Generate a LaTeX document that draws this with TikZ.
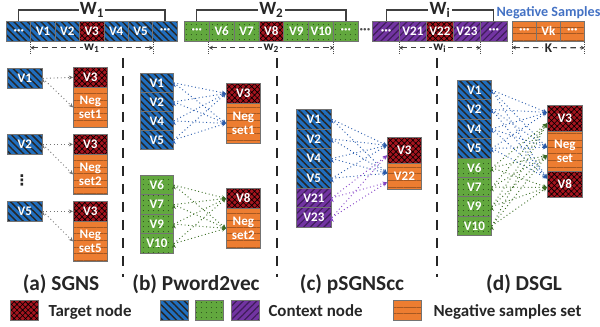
\documentclass[tikz,border=0pt]{standalone}
\usepackage{fontspec}
\setmainfont{Carlito}
\newfontfamily\symfont{DejaVu Sans}
\usetikzlibrary{arrows.meta,patterns.meta,calc}

\definecolor{tgtRed}{RGB}{165,20,30}
\definecolor{ctxBlue}{RGB}{32,110,190}
\definecolor{ctxGreen}{RGB}{98,168,62}
\definecolor{ctxPurple}{RGB}{114,52,162}
\definecolor{negOrange}{RGB}{237,125,49}
\definecolor{cellLine}{RGB}{115,115,115}
\definecolor{lnkBlue}{RGB}{45,95,175}
\definecolor{lnkGreen}{RGB}{62,112,40}
\definecolor{lnkPurple}{RGB}{135,70,200}
\definecolor{capGray}{RGB}{38,38,38}
\definecolor{titleBlue}{RGB}{68,114,196}

\tikzset{every picture/.style={line width=0.75pt}}
\tikzset{
  cell/.style={draw=cellLine, line width=0.6pt, inner sep=0pt, anchor=north west,
    text=white, align=center, font=\bfseries\fontsize{9.8}{10.5}\selectfont},
  tgt/.style={cell, preaction={fill=tgtRed},
    pattern={Hatch[angle=45,distance=3pt,line width=0.45pt]}, pattern color=black},
  ctxb/.style={cell, preaction={fill=ctxBlue},
    pattern={Lines[angle=-45,distance=3.6pt,line width=1.1pt]}, pattern color=black!85},
  ctxg/.style={cell, preaction={fill=ctxGreen},
    pattern={Dots[distance=4pt,radius=0.45pt]}, pattern color=ctxGreen!45!black},
  ctxp/.style={cell, preaction={fill=ctxPurple},
    pattern={Lines[angle=45,distance=3.6pt,line width=0.9pt]}, pattern color=ctxPurple!55!black},
  negs/.style={cell, preaction={fill=negOrange},
    pattern={Lines[angle=0,distance=5pt,line width=0.45pt]}, pattern color=negOrange!70!black},
  topA/.style={minimum width=18.3pt,minimum height=15pt},
  topB/.style={minimum width=18.65pt,minimum height=15pt},
  topC/.style={minimum width=20.25pt,minimum height=15pt},
  topK/.style={minimum width=18pt,minimum height=15pt},
  brk/.style={draw=black!75, line width=0.8pt},
  wlab/.style={fill=white, inner sep=1pt, text=black!85, font=\bfseries\fontsize{14}{14}\selectfont},
  wsub/.style={fill=white, inner sep=1pt, text=black!85, font=\bfseries\fontsize{10}{10}\selectfont},
  wtick/.style={densely dotted, draw=black!70, line width=0.7pt},
  warr/.style={draw=black!75, line width=0.8pt, dash pattern=on 4pt off 3pt,
    {Stealth[length=3pt,width=3pt]}-{Stealth[length=3pt,width=3pt]}},
  lnk/.style={dotted, line width=0.7pt, -{Stealth[length=3.2pt,width=3pt]}},
  lnkg/.style={lnk, draw=black!55},
  lnkb/.style={lnk, draw=lnkBlue},
  lnkn/.style={lnk, draw=lnkGreen},
  lnkp/.style={lnk, draw=lnkPurple},
  sepline/.style={draw=black!85, line width=1.8pt, dash pattern=on 7.5pt off 6pt},
  captxt/.style={anchor=base, text=capGray, font=\bfseries\fontsize{16}{16}\selectfont},
  legtxt/.style={anchor=base west, inner sep=0pt, text=capGray, font=\bfseries\fontsize{12.7}{13}\selectfont}
}

\begin{document}
\begin{tikzpicture}[x=0.75pt,y=-0.75pt]
\useasboundingbox (0,0) rectangle (600,327);

% top row, window 1
\node[ctxb,topA] (r1a) at (6,21) {···};
\node[ctxb,topA] (r1v1) at (30.4,21) {V1};
\node[ctxb,topA] (r1v2) at (54.8,21) {V2};
\node[tgt,topA] (r1v3) at (79.2,21) {V3};
\node[ctxb,topA] (r1v4) at (103.6,21) {V4};
\node[ctxb,topA] (r1v5) at (128,21) {V5};
\node[ctxb,topA] (r1b) at (152.4,21) {···};
% top row, window 2
\node[ctxg,topB] (r2a) at (184,21) {···};
\node[ctxg,topB] (r2v6) at (208.86,21) {V6};
\node[ctxg,topB] (r2v7) at (233.71,21) {V7};
\node[tgt,topB] (r2v8) at (258.57,21) {V8};
\node[ctxg,topB] (r2v9) at (283.43,21) {V9};
\node[ctxg,topB] (r2v10) at (308.29,21) {V10};
\node[ctxg,topB] (r2b) at (333.14,21) {···};
% gap
\node[text=black!70, font=\bfseries] (gapDots) at (365,31) {···};
% top row, window i
\node[ctxp,topC] (r3a) at (372,21) {···};
\node[ctxp,topC] (r3v21) at (399,21) {V21};
\node[tgt,topC] (r3v22) at (426,21) {V22};
\node[ctxp,topC] (r3v23) at (453,21) {V23};
\node[ctxp,topC] (r3b) at (480,21) {···};
% negative samples
\node[negs,topK] (rn1) at (512,21) {···};
\node[negs,topK] (rnk) at (536,21) {Vk};
\node[negs,topK] (rn2) at (560,21) {···};
\node[text=titleBlue, inner sep=0pt, font=\bfseries\fontsize{10.6}{11}\selectfont] (negTitle) at (548.5,13) {Negative Samples};

% window brackets
\draw[brk] (r1a.north) -- ++(0,-11) -| (r1b.north) node[pos=0.25,wlab] {W\textsubscript{1}};
\draw[brk] (r2a.north) -- ++(0,-11) -| (r2b.north) node[pos=0.25,wlab] {W\textsubscript{2}};
\draw[brk] (r3a.north) -- ++(0,-11) -| (r3b.north) node[pos=0.25,wlab] {W\textsubscript{i}};

% window widths
\draw[wtick] (r1v1.south west) -- ++(0,12);
\draw[wtick] (r1v5.south east) -- ++(0,12);
\coordinate (w1l) at ($(r1v1.south west)+(0,6)$);
\coordinate (w1r) at ($(r1v5.south east)+(0,6)$);
\draw[warr] (w1l) -- (w1r) node[midway,wsub] {w\textsubscript{1}};
\draw[wtick] (r2v6.south west) -- ++(0,12);
\draw[wtick] (r2v10.south east) -- ++(0,12);
\coordinate (w2l) at ($(r2v6.south west)+(0,6)$);
\coordinate (w2r) at ($(r2v10.south east)+(0,6)$);
\draw[warr] (w2l) -- (w2r) node[midway,wsub] {w\textsubscript{2}};
\draw[wtick] (r3v21.south west) -- ++(0,12);
\draw[wtick] (r3v23.south east) -- ++(0,12);
\coordinate (wil) at ($(r3v21.south west)+(0,6)$);
\coordinate (wir) at ($(r3v23.south east)+(0,6)$);
\draw[warr] (wil) -- (wir) node[midway,wsub] {w\textsubscript{i}};
\draw[wtick] (rn1.south west) -- ++(0,12);
\draw[wtick] (rn2.south east) -- ++(0,12);
\coordinate (kl) at ($(rn1.south west)+(0,6)$);
\coordinate (kr) at ($(rn2.south east)+(0,6)$);
\draw[warr] (kl) -- (kr) node[midway,wsub] {K};

% separators
\draw[sepline] (123,58) -- (123,277);
\draw[sepline] (277,58) -- (277,277);
\draw[sepline] (437,58) -- (437,277);

% (a) SGNS
\node[ctxb,minimum width=26.25pt,minimum height=15pt] (sgV1) at (7,68) {V1};
\node[tgt,minimum width=25.5pt,minimum height=15pt] (sgT1) at (73,67) {V3};
\node[negs,minimum width=25.5pt,minimum height=30pt] (sgN1) at (73,87) {Neg\\set1};
\node[ctxb,minimum width=26.25pt,minimum height=15pt] (sgV2) at (7,134) {V2};
\node[tgt,minimum width=25.5pt,minimum height=15pt] (sgT2) at (73,134) {V3};
\node[negs,minimum width=25.5pt,minimum height=30pt] (sgN2) at (73,154) {Neg\\set2};
\node[ctxb,minimum width=26.25pt,minimum height=15pt] (sgV5) at (7,201) {V5};
\node[tgt,minimum width=25.5pt,minimum height=15pt] (sgT5) at (73,201) {V3};
\node[negs,minimum width=25.5pt,minimum height=30pt] (sgN5) at (73,221) {Neg\\set5};
\node[text=capGray, font=\symfont\bfseries\fontsize{11}{11}\selectfont] (sgDots) at (22,180) {⋮};
\draw[lnkg] (sgV1.east) edge (sgT1.west) edge (sgN1.west);
\draw[lnkg] (sgV2.east) edge (sgT2.west) edge (sgN2.west);
\draw[lnkg] (sgV5.east) edge (sgT5.west) edge (sgN5.west);

% (b) Pword2vec
\node[ctxb,minimum width=24.75pt,minimum height=14.25pt] (pwV1) at (140,73) {V1};
\node[ctxb,minimum width=24.75pt,minimum height=14.25pt] (pwV2) at (140,92) {V2};
\node[ctxb,minimum width=24.75pt,minimum height=14.25pt] (pwV4) at (140,111) {V4};
\node[ctxb,minimum width=24.75pt,minimum height=14.25pt] (pwV5) at (140,130) {V5};
\node[tgt,minimum width=25.5pt,minimum height=15pt] (pwT1) at (226,83) {V3};
\node[negs,minimum width=25.5pt,minimum height=30pt] (pwN1) at (226,103) {Neg\\set1};
\node[ctxg,minimum width=24.75pt,minimum height=14.6pt] (pwV6) at (140,175) {V6};
\node[ctxg,minimum width=24.75pt,minimum height=14.6pt] (pwV7) at (140,194.5) {V7};
\node[ctxg,minimum width=24.75pt,minimum height=14.6pt] (pwV9) at (140,214) {V9};
\node[ctxg,minimum width=24.75pt,minimum height=14.6pt] (pwV10) at (140,233.5) {V10};
\node[tgt,minimum width=25.5pt,minimum height=15pt] (pwT2) at (226,188) {V8};
\node[negs,minimum width=25.5pt,minimum height=30pt] (pwN2) at (226,208) {Neg\\set2};
\draw[lnkb] (pwV1.east) edge (pwT1.west) edge (pwN1.west);
\draw[lnkb] (pwV2.east) edge (pwT1.west) edge (pwN1.west);
\draw[lnkb] (pwV4.east) edge (pwT1.west) edge (pwN1.west);
\draw[lnkb] (pwV5.east) edge (pwT1.west) edge (pwN1.west);
\draw[lnkn] (pwV6.east) edge (pwT2.west) edge (pwN2.west);
\draw[lnkn] (pwV7.east) edge (pwT2.west) edge (pwN2.west);
\draw[lnkn] (pwV9.east) edge (pwT2.west) edge (pwN2.west);
\draw[lnkn] (pwV10.east) edge (pwT2.west) edge (pwN2.west);

% (c) pSGNScc
\node[ctxb,minimum width=26.25pt,minimum height=14.75pt] (ccV1) at (296,109) {V1};
\node[ctxb,minimum width=26.25pt,minimum height=14.75pt] (ccV2) at (296,128.67) {V2};
\node[ctxb,minimum width=26.25pt,minimum height=14.75pt] (ccV4) at (296,148.33) {V4};
\node[ctxb,minimum width=26.25pt,minimum height=14.75pt] (ccV5) at (296,168) {V5};
\node[ctxp,minimum width=26.25pt,minimum height=14.75pt] (ccV21) at (296,187.67) {V21};
\node[ctxp,minimum width=26.25pt,minimum height=14.75pt] (ccV23) at (296,207.33) {V23};
\node[tgt,minimum width=25.5pt,minimum height=19.5pt] (ccT) at (387,137) {V3};
\node[negs,minimum width=25.5pt,minimum height=19.5pt] (ccN) at (387,163) {V22};
\coordinate (ccTb) at ($(ccT.west)+(0,-5)$);
\coordinate (ccTp) at ($(ccT.west)+(0,5)$);
\coordinate (ccNb) at ($(ccN.west)+(0,-3)$);
\coordinate (ccNp) at ($(ccN.west)+(0,6)$);
\draw[lnkb] (ccV1.east) edge (ccTb) edge (ccNb);
\draw[lnkb] (ccV2.east) edge (ccTb) edge (ccNb);
\draw[lnkb] (ccV4.east) edge (ccTb) edge (ccNb);
\draw[lnkb] (ccV5.east) edge (ccTb) edge (ccNb);
\draw[lnkp] (ccV21.east) edge (ccTp) edge (ccNp);
\draw[lnkp] (ccV23.east) edge (ccTp) edge (ccNp);

% (d) DSGL
\node[ctxb,minimum width=25.5pt,minimum height=14.55pt] (dsV1) at (457,80) {V1};
\node[ctxb,minimum width=25.5pt,minimum height=14.55pt] (dsV2) at (457,99.4) {V2};
\node[ctxb,minimum width=25.5pt,minimum height=14.55pt] (dsV4) at (457,118.8) {V4};
\node[ctxb,minimum width=25.5pt,minimum height=14.55pt] (dsV5) at (457,138.2) {V5};
\node[ctxg,minimum width=25.5pt,minimum height=14.55pt] (dsV6) at (457,157.6) {V6};
\node[ctxg,minimum width=25.5pt,minimum height=14.55pt] (dsV7) at (457,177) {V7};
\node[ctxg,minimum width=25.5pt,minimum height=14.55pt] (dsV9) at (457,196.4) {V9};
\node[ctxg,minimum width=25.5pt,minimum height=14.55pt] (dsV10) at (457,215.8) {V10};
\node[tgt,minimum width=26.25pt,minimum height=19.5pt] (dsT3) at (547,105) {V3};
\node[negs,minimum width=26.25pt,minimum height=30pt] (dsN) at (547,131) {Neg\\set};
\node[tgt,minimum width=26.25pt,minimum height=19.5pt] (dsT8) at (547,171) {V8};
\coordinate (dsT3b) at ($(dsT3.west)+(0,-6)$);
\coordinate (dsT3g) at ($(dsT3.west)+(0,5)$);
\coordinate (dsNb) at ($(dsN.west)+(0,-4)$);
\coordinate (dsNg) at ($(dsN.west)+(0,4)$);
\coordinate (dsT8b) at ($(dsT8.west)+(0,-6)$);
\coordinate (dsT8g) at ($(dsT8.west)+(0,3)$);
\draw[lnkb] (dsV1.east) edge (dsT3b) edge (dsNb) edge (dsT8b);
\draw[lnkb] (dsV2.east) edge (dsT3b) edge (dsNb) edge (dsT8b);
\draw[lnkb] (dsV4.east) edge (dsT3b) edge (dsNb) edge (dsT8b);
\draw[lnkb] (dsV5.east) edge (dsT3b) edge (dsNb) edge (dsT8b);
\draw[lnkn] (dsV6.east) edge (dsT3g) edge (dsNg) edge (dsT8g);
\draw[lnkn] (dsV7.east) edge (dsT3g) edge (dsNg) edge (dsT8g);
\draw[lnkn] (dsV9.east) edge (dsT3g) edge (dsNg) edge (dsT8g);
\draw[lnkn] (dsV10.east) edge (dsT3g) edge (dsNg) edge (dsT8g);

% captions
\node[captxt] (capA) at (61,291) {(a) SGNS};
\node[captxt] (capB) at (196,291) {(b) Pword2vec};
\node[captxt] (capC) at (352,291) {(c) pSGNScc};
\node[captxt] (capD) at (524,291) {(d) DSGL};

% legend
\node[tgt,minimum width=21pt,minimum height=15pt] (lgT) at (10,300) {};
\node[legtxt] (lgTtxt) at (48,317) {Target node};
\node[ctxb,minimum width=21pt,minimum height=15pt] (lgB) at (160,300) {};
\node[ctxg,minimum width=21pt,minimum height=15pt] (lgG) at (195,300) {};
\node[ctxp,minimum width=21pt,minimum height=15pt] (lgP) at (231,300) {};
\node[legtxt] (lgCtxt) at (268,317) {Context node};
\node[negs,minimum width=21pt,minimum height=15pt] (lgN) at (393,300) {};
\node[legtxt] (lgNtxt) at (433,317) {Negative samples set};
\end{tikzpicture}
\end{document}
